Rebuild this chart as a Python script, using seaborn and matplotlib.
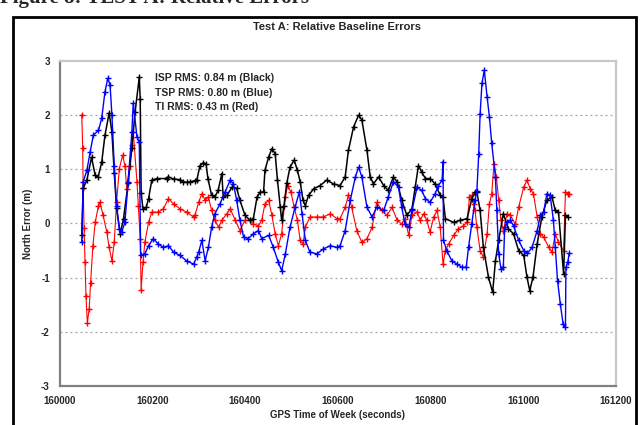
import pandas as pd
import seaborn as sns
import matplotlib.pyplot as plt
from matplotlib.patches import Rectangle

# ISP (black)
isp_t = [160048, 160051, 160059, 160069, 160077, 160083, 160091, 160098, 160107, 160113,
         160118, 160123, 160131, 160138, 160148, 160156, 160163, 160172, 160174, 160176,
         160180, 160187, 160192, 160199, 160210, 160231, 160235, 160246, 160260, 160266,
         160274, 160282, 160292, 160296, 160303, 160310, 160316, 160320, 160328, 160335,
         160342, 160350, 160353, 160361, 160372, 160382, 160389, 160400, 160411, 160418,
         160426, 160433, 160440, 160443, 160451, 160458, 160465, 160470, 160476, 160479,
         160484, 160490, 160497, 160506, 160513, 160519, 160525, 160530, 160537, 160548,
         160562, 160576, 160591, 160605, 160616, 160623, 160634, 160645, 160652, 160663,
         160670, 160677, 160688, 160699, 160709, 160720, 160728, 160738, 160749, 160760,
         160767, 160774, 160781, 160789, 160799, 160810, 160821, 160827, 160832, 160850,
         160864, 160879, 160889, 160896, 160900, 160907, 160914, 160925, 160934, 160940,
         160947, 160957, 160968, 160979, 160990, 161001, 161008, 161014, 161021, 161030,
         161040, 161051, 161062, 161069, 161076, 161087, 161091, 161096]
isp_err = [-0.22, 0.65, 0.80, 1.22, 0.89, 0.85, 1.13, 1.63, 2.04, 1.69,
           0.94, 0.28, -0.19, 0.09, 0.74, 1.39, 2.06, 2.70, 2.30, 0.57,
           0.26, 0.30, 0.46, 0.80, 0.83, 0.83, 0.86, 0.82, 0.81, 0.77,
           0.76, 0.77, 0.79, 0.80, 1.07, 1.12, 1.10, 0.83, 0.52, 0.49,
           0.61, 0.92, 0.49, 0.52, 0.67, 0.65, 0.43, 0.15, 0.06, 0.09,
           0.49, 0.58, 0.58, 0.98, 1.23, 1.38, 1.29, 0.80, 0.30, 0.06,
           0.33, 0.74, 1.04, 1.17, 0.98, 0.77, 0.43, 0.33, 0.52, 0.64,
           0.70, 0.80, 0.73, 0.70, 0.86, 1.35, 1.78, 2.00, 1.91, 1.35,
           0.86, 0.73, 0.86, 0.70, 0.61, 0.86, 0.77, 0.43, 0.15, 0.27,
           0.67, 1.07, 0.95, 0.83, 0.83, 0.73, 0.52, 0.49, 0.09, 0.02,
           0.06, 0.09, 0.46, 0.58, 0.58, 0.24, -0.44, -0.99, -1.27, -0.69,
           -0.31, 0.18, -0.10, -0.19, -0.50, -0.59, -0.99, -1.24, -0.99, -0.38,
           0.12, 0.43, 0.49, 0.24, 0.21, -0.93, 0.15, 0.12]

# TSP (blue)
tsp_t = [160048, 160051, 160059, 160066, 160073, 160084, 160091, 160098, 160104, 160109,
         160113, 160118, 160123, 160129, 160134, 160141, 160148, 160156, 160159, 160167,
         160172, 160175, 160184, 160192, 160202, 160213, 160224, 160235, 160246, 160260,
         160274, 160289, 160296, 160300, 160307, 160314, 160321, 160328, 160335, 160346,
         160357, 160368, 160375, 160382, 160389, 160397, 160407, 160418, 160429, 160436,
         160451, 160461, 160472, 160479, 160487, 160497, 160508, 160517, 160523, 160530,
         160540, 160555, 160569, 160584, 160598, 160605, 160616, 160627, 160638, 160645,
         160652, 160663, 160674, 160684, 160699, 160709, 160720, 160731, 160738, 160745,
         160753, 160760, 160771, 160781, 160789, 160799, 160810, 160817, 160825, 160827,
         160828, 160835, 160846, 160857, 160868, 160877, 160882, 160889, 160896, 160900,
         160904, 160907, 160911, 160916, 160922, 160927, 160932, 160940, 160943, 160947,
         160952, 160957, 160960, 160965, 160972, 160979, 160990, 161001, 161009, 161019,
         161030, 161037, 161044, 161051, 161058, 161065, 161069, 161074, 161080, 161086,
         161091, 161092, 161096, 161099]
tsp_err = [-0.35, 0.77, 0.98, 1.32, 1.63, 1.72, 1.94, 2.43, 2.68, 2.56,
           2.00, 1.07, 0.33, -0.10, -0.16, 0.02, 0.77, 1.69, 2.22, 1.60,
           1.50, -0.59, -0.56, -0.41, -0.28, -0.38, -0.44, -0.41, -0.53, -0.59,
           -0.69, -0.75, -0.62, -0.53, -0.31, -0.69, -0.44, -0.07, 0.18, 0.36,
           0.58, 0.80, 0.73, 0.43, 0.06, -0.25, -0.28, -0.19, -0.13, -0.28,
           -0.22, -0.44, -0.72, -0.87, -0.56, -0.07, 0.30, 0.58, 0.18, -0.31,
           -0.53, -0.56, -0.47, -0.41, -0.44, -0.41, -0.13, 0.43, 0.86, 1.04,
           0.86, 0.30, 0.12, 0.30, 0.24, 0.49, 0.77, 0.67, 0.30, -0.01,
           -0.07, 0.24, 0.67, 0.61, 0.46, 0.39, 0.55, 0.70, 0.80, 1.14,
           -0.31, -0.50, -0.69, -0.75, -0.81, -0.81, -0.44, -0.01, 0.43, 0.60,
           1.29, 2.03, 2.59, 2.83, 2.34, 1.97, 1.48, 0.86, 0.24, -0.56,
           -0.84, -0.81, -0.07, 0.02, 0.06, -0.04, -0.31, -0.50, -0.55, -0.44,
           -0.13, 0.15, 0.21, 0.55, 0.52, 0.06, -0.44, -1.06, -1.49, -1.86,
           -1.92, -0.81, -0.72, -0.55]

# TI (red)
ti_t = [160048, 160050, 160051, 160053, 160055, 160057, 160060, 160064, 160067, 160072,
        160077, 160084, 160087, 160094, 160102, 160107, 160113, 160118, 160123, 160129,
        160136, 160141, 160145, 160151, 160156, 160159, 160167, 160170, 160174, 160176,
        160180, 160184, 160192, 160199, 160213, 160224, 160235, 160246, 160260, 160274,
        160289, 160292, 160300, 160307, 160314, 160321, 160328, 160335, 160343, 160350,
        160361, 160368, 160379, 160389, 160400, 160411, 160418, 160429, 160436, 160443,
        160451, 160458, 160465, 160472, 160479, 160487, 160492, 160499, 160506, 160513,
        160519, 160525, 160530, 160540, 160555, 160569, 160584, 160598, 160605, 160616,
        160623, 160630, 160641, 160652, 160663, 160674, 160684, 160695, 160706, 160717,
        160728, 160738, 160745, 160753, 160760, 160771, 160778, 160785, 160792, 160799,
        160807, 160814, 160821, 160827, 160832, 160839, 160850, 160860, 160871, 160879,
        160884, 160889, 160893, 160896, 160900, 160907, 160914, 160922, 160927, 160932,
        160937, 160942, 160947, 160952, 160957, 160965, 160972, 160983, 160990, 161001,
        161008, 161015, 161022, 161030, 161037, 161044, 161055, 161062, 161069, 161076,
        161087, 161091, 161096, 161099]
ti_err = [2.01, 1.39, 0.65, -0.09, -0.72, -1.33, -1.83, -1.58, -1.09, -0.41,
          0.02, 0.33, 0.39, 0.15, -0.16, -0.44, -0.69, -0.35, 0.39, 1.01,
          1.26, 1.07, 0.64, 1.07, 1.44, 1.69, 0.77, 0.33, -0.28, -1.22,
          -0.72, -0.35, 0.02, 0.21, 0.21, 0.27, 0.46, 0.36, 0.27, 0.21,
          0.12, 0.15, 0.39, 0.55, 0.43, 0.49, 0.24, 0.06, -0.07, 0.06,
          0.18, 0.27, 0.06, -0.13, 0.06, 0.06, -0.01, -0.04, 0.06, 0.36,
          0.43, 0.15, -0.19, -0.41, -0.19, 0.49, 0.70, 0.58, 0.30, 0.06,
          -0.31, -0.38, -0.07, 0.12, 0.12, 0.12, 0.18, 0.09, 0.09, 0.30,
          0.52, 0.30, -0.13, -0.35, -0.28, -0.07, 0.39, 0.24, 0.15, 0.30,
          0.06, -0.01, 0.09, -0.22, 0.15, 0.21, 0.06, 0.18, 0.06, -0.16,
          0.12, 0.24, -0.07, -0.75, -0.50, -0.38, -0.22, -0.10, -0.04, 0.02,
          0.49, 0.52, 0.36, 0.24, -0.07, -0.50, -0.62, -0.19, 0.36, 0.55,
          1.10, 0.86, 0.43, 0.06, -0.13, 0.18, 0.15, -0.01, 0.30, 0.67,
          0.80, 0.64, 0.55, 0.12, -0.19, -0.25, -0.44, -0.53, -0.19, -0.35,
          -0.50, 0.58, 0.55, 0.55]

rms_lines = ["ISP RMS: 0.84 m (Black)", "TSP RMS: 0.80 m (Blue)", "TI RMS: 0.43 m (Red)"]
x_ticks = [160000, 160200, 160400, 160600, 160800, 161000, 161200]
y_ticks = [-3, -2, -1, 0, 1, 2, 3]

sns.set_style("white")
plt.rcParams['font.family'] = ['Liberation Sans', 'DejaVu Sans']

fig = plt.figure(figsize=(6.42, 4.25), dpi=100)
ax = fig.add_axes([0.0927, 0.0918, 0.8668, 0.7647])

# gray dotted gridlines
for yv in y_ticks[1:-1]:
    ax.axhline(yv, color="#a0a0a0", linestyle=(0, (1.5, 2.5)), linewidth=0.9, zorder=0)

series = [
    (ti_t, ti_err, "#ff0000", 0.8),
    (isp_t, isp_err, "#000000", 1.1),
    (tsp_t, tsp_err, "#0000ff", 1.0),
]
for t, e, col, lw in series:
    df = pd.DataFrame({"t": t, "err": e})
    sns.lineplot(data=df, x="t", y="err", color=col, linewidth=lw, marker="+",
                 markersize=4, markeredgewidth=1.0, markeredgecolor=col,
                 estimator=None, sort=False, ax=ax)

ax.set_xlim(160000, 161200)
ax.set_ylim(-3, 3)
ax.set_xticks(x_ticks)
ax.set_yticks(y_ticks)
ax.set_xticklabels([str(v) for v in x_ticks], fontsize=7, fontweight="bold")
ax.set_yticklabels([str(v) for v in y_ticks], fontsize=7, fontweight="bold")
ax.tick_params(axis="both", direction="out", length=3, width=1, color="#808080", pad=4)
ax.set_xlabel("GPS Time of Week (seconds)", fontsize=7, fontweight="bold", labelpad=3)
ax.set_ylabel("North Error (m)", fontsize=7, fontweight="bold", labelpad=6)

for side in ["left", "bottom"]:
    ax.spines[side].set_color("#808080")
    ax.spines[side].set_linewidth(1.6)
for side in ["top", "right"]:
    ax.spines[side].set_color("#c8c8c8")
    ax.spines[side].set_linewidth(1.6)

for i, txt in enumerate(rms_lines):
    ax.text(0.1716, 0.948 - i * 0.045, txt, transform=ax.transAxes, fontsize=7.5,
            fontweight="bold", va="center", ha="left")

fig.text(0.525, 0.936, "Test A: Relative Baseline Errors", fontsize=8, fontweight="bold",
         ha="center", va="center")

# surrounding frame and the caption that the crop cuts through
fig.patches.append(Rectangle((13 / 642, -0.1), 623 / 642, 1.1 - 17 / 425, transform=fig.transFigure,
                             fill=False, edgecolor="black", linewidth=2))
fig.text(0.0, 1.005, "Figure 8: TEST A: Relative Errors", fontsize=15, fontweight="bold",
         family=["Liberation Serif", "DejaVu Serif"], ha="left", va="center")

fig.savefig("out.png", dpi=100)
